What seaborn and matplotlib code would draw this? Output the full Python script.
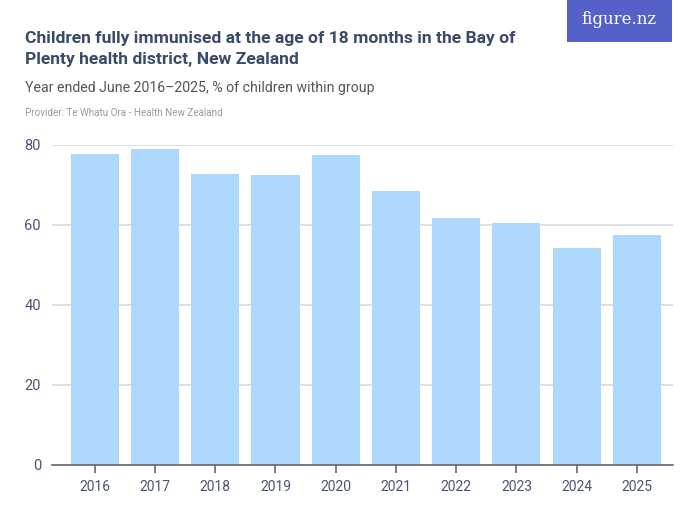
import matplotlib
matplotlib.use("Agg")
import matplotlib.pyplot as plt
import seaborn as sns
import pandas as pd
from matplotlib.patches import Rectangle

years = ["2016", "2017", "2018", "2019", "2020", "2021", "2022", "2023", "2024", "2025"]
values = [77.75, 79.0, 72.75, 72.5, 77.5, 68.5, 61.75, 60.5, 54.25, 57.5]
yticks = [0, 20, 40, 60, 80]

title = "Children fully immunised at the age of 18 months in the Bay of\nPlenty health district, New Zealand"
subtitle = "Year ended June 2016\u20132025, % of children within group"
provider = "Provider: Te Whatu Ora - Health New Zealand"

sns.set_theme(style="white")
plt.rcParams["font.family"] = ["Roboto", "DejaVu Sans"]

df = pd.DataFrame({"year": years, "value": values})

fig = plt.figure(figsize=(7, 5.25), dpi=100)
ax = fig.add_axes([52 / 700, 1 - 465 / 525, (673 - 52) / 700, 320 / 525])
sns.barplot(data=df, x="year", y="value", color="#aed8fb", saturation=1, width=0.8,
            linewidth=0, ax=ax, zorder=2)

ax.set_ylim(0, 80)
ax.set_xlim(-0.71, 9.6)
ax.set_yticks(yticks)
ax.set_yticklabels([str(v) for v in yticks])
ax.yaxis.grid(True, color="#d9d9d9", linewidth=1.2, zorder=0)
ax.set_axisbelow(True)
for s in ["top", "right", "left"]:
    ax.spines[s].set_visible(False)
ax.spines["bottom"].set_color("#666666")
ax.spines["bottom"].set_linewidth(1.2)
ax.spines["bottom"].set_zorder(3)
ax.tick_params(axis="x", bottom=True, length=6, width=1.2, color="#666666", labelsize=10,
               labelcolor="#4a5573", pad=5)
ax.tick_params(axis="y", left=False, length=0, labelsize=10.5, labelcolor="#4a5573", pad=8)
ax.set_xlabel("")
ax.set_ylabel("")

fig.text(25 / 700, 1 - 49 / 525, title, fontsize=12.6, fontweight="bold", color="#3b4a69",
         va="center", ha="left", linespacing=1.5)
fig.text(25 / 700, 1 - 88 / 525, subtitle, fontsize=10.2, color="#555555", va="center", ha="left")
fig.text(25 / 700, 1 - 113 / 525, provider, fontsize=7.1, color="#999999", va="center", ha="left")

fig.patches.append(Rectangle((567 / 700, 1 - 42 / 525), 105 / 700, 42 / 525,
                             transform=fig.transFigure, facecolor="#5561c8", edgecolor="none"))
fig.text(619 / 700, 1 - 19 / 525, "figure.nz", fontsize=12, color="white", family=["DejaVu Serif"],
         va="center", ha="center")

fig.savefig("out.png", dpi=100)
